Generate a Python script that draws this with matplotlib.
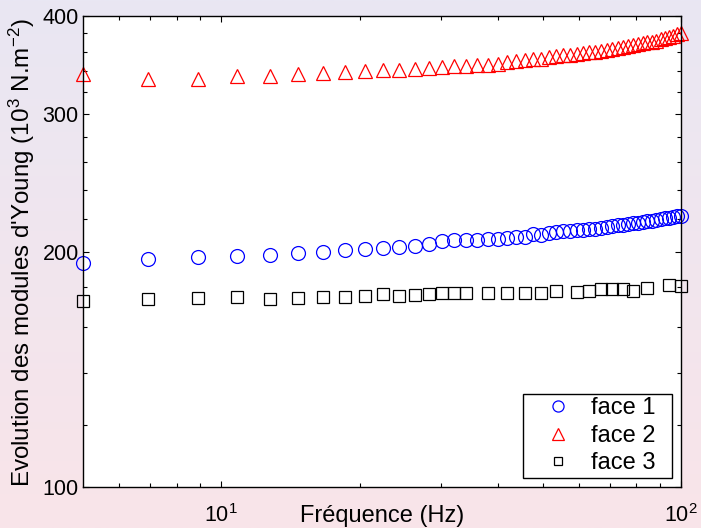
import numpy as np
import matplotlib
matplotlib.use('Agg')  # headless
import matplotlib.pyplot as plt
from matplotlib.ticker import FixedLocator, FixedFormatter, NullFormatter

# -------------------------------
# Data
# -------------------------------

# frequencies (Hz) for face 1 and face 2
freq = [5.00, 6.94, 8.88, 10.82, 12.76, 14.69, 16.63, 18.57, 20.51, 22.45,
        24.39, 26.33, 28.27, 30.20, 32.14, 34.08, 36.02, 37.96, 39.90, 41.84,
        43.78, 45.71, 47.65, 49.59, 51.53, 53.47, 55.41, 57.35, 59.29, 61.22,
        63.16, 65.10, 67.04, 68.98, 70.92, 72.86, 74.80, 76.73, 78.67, 80.61,
        82.55, 84.49, 86.43, 88.37, 90.31, 92.24, 94.18, 96.12, 98.06, 100.00]

face1 = [193.2, 195.7, 196.7, 197.4, 198.2, 199.0, 200.0, 201.0, 201.5, 202.2,
         202.8, 203.4, 204.6, 206.0, 207.0, 207.0, 207.0, 207.2, 207.4, 208.0,
         209.0, 209.0, 210.5, 210.2, 211.0, 211.8, 212.3, 212.6, 213.0, 213.3,
         213.6, 214.0, 214.5, 215.0, 215.5, 216.0, 216.3, 216.7, 217.2, 217.6,
         218.0, 218.5, 219.0, 219.5, 220.0, 220.5, 221.0, 221.3, 221.8, 222.3]

face2 = [337.0, 332.0, 332.0, 335.0, 335.0, 337.0, 338.0, 339.0, 340.0, 341.0,
         341.5, 342.5, 343.0, 344.0, 345.0, 345.0, 346.0, 346.0, 347.5, 349.5,
         350.5, 351.5, 352.5, 352.5, 354.5, 355.5, 356.5, 357.0, 358.0, 359.0,
         359.5, 360.0, 361.0, 362.0, 363.0, 364.0, 365.0, 366.0, 367.0, 368.0,
         369.0, 370.0, 371.0, 372.0, 373.5, 375.0, 376.0, 377.5, 379.0, 381.0]

# face 3 was measured at fewer frequencies
freq3 = [5.00, 6.94, 8.88, 10.82, 12.76, 14.69, 16.63, 18.57, 20.51, 22.45,
         24.39, 26.33, 28.27, 30.20, 32.14, 34.08, 37.96, 41.84, 45.71, 49.59,
         53.47, 59.29, 63.16, 67.04, 70.92, 74.80, 78.67, 84.49, 94.18, 100.00]

face3 = [172.9, 173.8, 174.3, 175.1, 174.0, 174.3, 175.1, 175.1, 175.7, 176.5,
         175.5, 176.0, 176.5, 176.9, 176.9, 177.2, 177.2, 177.2, 177.2, 177.2,
         178.2, 177.7, 178.2, 179.0, 179.0, 179.0, 178.2, 179.5, 181.2, 180.7]

y_major = [100, 200, 300, 400]
y_minor = [120, 140, 160, 180, 220, 240, 260, 280, 320, 340, 360, 380]
x_major = [10, 100]
x_major_labels = ['$10^1$', '$10^2$']
x_minor = [6, 7, 8, 9, 20, 30, 40, 50, 60, 70, 80, 90]

# -------------------------------
# Figure
# -------------------------------

plt.rcParams['font.family'] = ['Liberation Sans', 'DejaVu Sans']
plt.rcParams['mathtext.fontset'] = 'custom'
plt.rcParams['mathtext.rm'] = 'Liberation Sans'
plt.rcParams['mathtext.it'] = 'Liberation Sans'

fig = plt.figure(figsize=(7.01, 5.28), dpi=100)

# background gradient (lavender at the top, pink at the bottom)
bg = fig.add_axes([0, 0, 1, 1], zorder=-10)
top = np.array([233, 231, 243]) / 255.0
bottom = np.array([249, 228, 233]) / 255.0
t = np.linspace(0, 1, 256)[:, None]
grad = top[None, :] * (1 - t) + bottom[None, :] * t
bg.imshow(grad[:, None, :], aspect='auto', extent=[0, 1, 0, 1])
bg.axis('off')

ax = fig.add_axes([83 / 701, 41 / 528, 598 / 701, 471 / 528])
ax.set_facecolor('white')

ax.plot(freq, face1, linestyle='none', marker='o', ms=10, mfc='none',
        mec='#0000ff', mew=0.9, label='face 1  ', clip_on=False)
ax.plot(freq, face2, linestyle='none', marker='^', ms=10.5, mfc='none',
        mec='#ff0000', mew=0.9, label='face 2  ', clip_on=False)
ax.plot(freq3, face3, linestyle='none', marker='s', ms=8, mfc='none',
        mec='black', mew=0.9, label='face 3  ', clip_on=False)

ax.set_xscale('log')
ax.set_yscale('log')
ax.set_xlim(5, 100)
ax.set_ylim(100, 400)

ax.xaxis.set_major_locator(FixedLocator(x_major))
ax.xaxis.set_major_formatter(FixedFormatter(x_major_labels))
ax.xaxis.set_minor_locator(FixedLocator(x_minor))
ax.xaxis.set_minor_formatter(NullFormatter())
ax.yaxis.set_major_locator(FixedLocator(y_major))
ax.yaxis.set_major_formatter(FixedFormatter([str(v) for v in y_major]))
ax.yaxis.set_minor_locator(FixedLocator(y_minor))
ax.yaxis.set_minor_formatter(NullFormatter())

ax.tick_params(which='both', direction='in', top=True, right=True,
               labelsize=15.5, width=0.8)
ax.tick_params(which='major', length=4.5, pad=3)
ax.tick_params(which='minor', length=3)
ax.tick_params(axis='x', which='major', pad=12)
for spine in ax.spines.values():
    spine.set_linewidth(1.0)

ax.set_xlabel('Fréquence (Hz)', fontsize=17)
ax.xaxis.set_label_coords(0.5, -0.038)
ax.set_ylabel("Evolution des modules d'Young (10$^3$ N.m$^{-2}$)",
              fontsize=17.4)
ax.yaxis.set_label_coords(-0.077, 0.497)

leg = ax.legend(loc='lower right', fontsize=17, frameon=True, fancybox=False,
                edgecolor='black', framealpha=1, borderpad=0.15,
                labelspacing=0.24, handletextpad=0.06, markerscale=0.8,
                handlelength=2.67, borderaxespad=0.38)
leg.get_frame().set_linewidth(1.0)

fig.savefig('out.png', dpi=100)
plt.close(fig)
